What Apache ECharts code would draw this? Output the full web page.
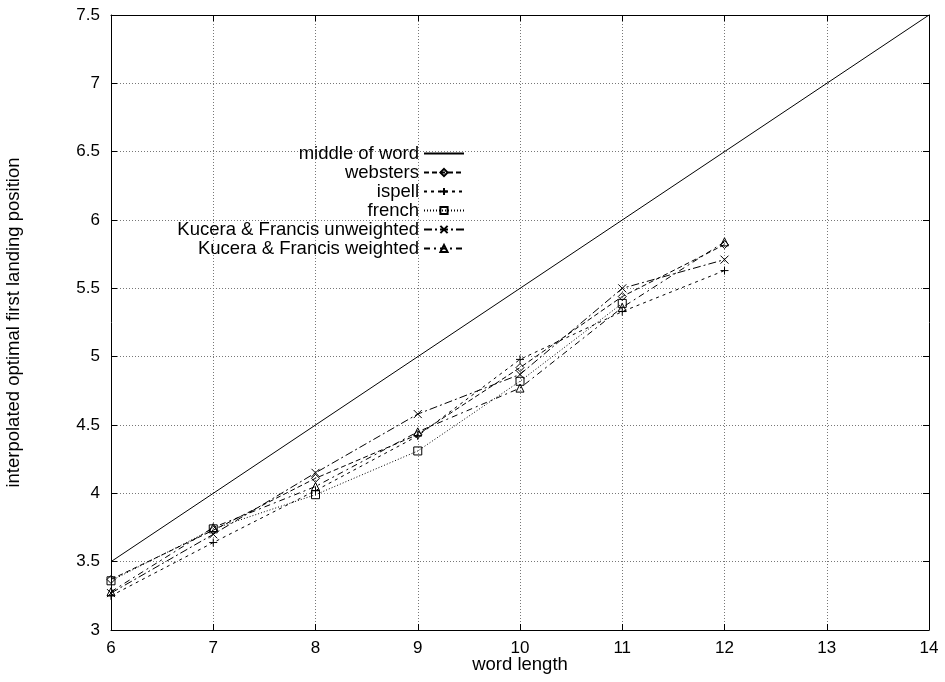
<!DOCTYPE html>
<html><head><meta charset="utf-8">
<script src="https://cdn.jsdelivr.net/npm/echarts@6/dist/echarts.min.js"></script>
<style>html,body{margin:0;padding:0;background:#fff}#c{width:945px;height:682px}</style>
</head><body><div id="c"></div>
<script>
const wordLength = [6, 7, 8, 9, 10, 11, 12];
const middleX = [6, 14];
const middleY = [3.5, 7.5];
const websters = [3.37, 3.73, 4.11, 4.43, 4.92, 5.44, 5.82];
const ispell = [3.25, 3.64, 4.02, 4.42, 4.98, 5.33, 5.63];
const french = [3.36, 3.74, 3.99, 4.31, 4.82, 5.39];
const kfUnweighted = [3.27, 3.70, 4.15, 4.58, 4.87, 5.50, 5.71];
const kfWeighted = [3.28, 3.75, 4.05, 4.45, 4.77, 5.36, 5.84];
const seriesNames = ['middle of word', 'websters', 'ispell', 'french', 'Kucera & Francis unweighted', 'Kucera & Francis weighted'];
const xTicks = [6, 7, 8, 9, 10, 11, 12, 13, 14];
const yTicks = [3, 3.5, 4, 4.5, 5, 5.5, 6, 6.5, 7, 7.5];

const FONT = 'Liberation Sans';
const pair = (xs, ys) => ys.map((y, i) => [xs[i], y]);
const plusPath = 'path://M0,5L10,5M5,0L5,10';
const crossPath = 'path://M0,0L10,10M10,0L0,10';
const diamondPath = 'path://M5,0L10,5L5,10L0,5Z';
const squarePath = 'path://M0,0L10,0L10,10L0,10Z';
const trianglePath = 'path://M5,0L10,9L0,9Z';

function mk(name, data, dash, symbol, size, show) {
  return {
    name, type: 'line', data, symbol, symbolSize: size,
    showSymbol: show,
    lineStyle: { color: '#000', width: 1, type: dash },
    itemStyle: { color: 'rgba(0,0,0,0)', borderColor: '#000', borderWidth: 1 },
    emphasis: { disabled: true },
    animation: false, z: 3
  };
}

const axisCommon = {
  type: 'value',
  axisLine: { show: true, onZero: false, lineStyle: { color: '#000', width: 1 } },
  axisTick: { show: true, inside: true, length: 6, lineStyle: { color: '#000' } },
  axisLabel: { color: '#000', fontFamily: FONT, fontSize: 17 },
  splitLine: { show: false }
};

const legendData = seriesNames.map((n, i) => i === 0
  ? { name: n, itemStyle: { color: 'rgba(0,0,0,0)', borderColor: 'rgba(0,0,0,0)', borderWidth: 0, opacity: 0 } }
  : { name: n });

const chart = echarts.init(document.getElementById('c'));
chart.setOption({
  animation: false,
  grid: { left: 111, top: 15, right: 16, bottom: 52, containLabel: false, outerBoundsMode: 'none' },
  xAxis: [
    Object.assign({}, axisCommon, {
      min: xTicks[0], max: xTicks[xTicks.length - 1], interval: 1, position: 'bottom',
      name: 'word length', nameLocation: 'middle', nameGap: 25, nameMoveOverlap: false,
      nameTextStyle: { color: '#000', fontFamily: FONT, fontSize: 18.5 },
      axisLabel: { color: '#000', fontFamily: FONT, fontSize: 17, margin: 10 },
      splitLine: { show: true, lineStyle: { color: '#777', type: [1, 2], width: 1 } }
    }),
    Object.assign({}, axisCommon, {
      min: xTicks[0], max: xTicks[xTicks.length - 1], interval: 1, position: 'top',
      axisLabel: { show: false }
    })
  ],
  yAxis: [
    Object.assign({}, axisCommon, {
      min: yTicks[0], max: yTicks[yTicks.length - 1], interval: 0.5, position: 'left',
      name: 'interpolated optimal first landing position', nameLocation: 'middle', nameGap: 88,
      nameMoveOverlap: false,
      nameTextStyle: { color: '#000', fontFamily: FONT, fontSize: 18.5 },
      axisLabel: { color: '#000', fontFamily: FONT, fontSize: 17, margin: 11 },
      splitLine: { show: true, lineStyle: { color: '#777', type: [1, 2], width: 1 } }
    }),
    Object.assign({}, axisCommon, {
      min: yTicks[0], max: yTicks[yTicks.length - 1], interval: 0.5, position: 'right',
      axisLabel: { show: false }
    })
  ],
  legend: {
    orient: 'vertical', align: 'right', right: 475, top: 139,
    itemWidth: 40, itemHeight: 9, itemGap: 0,
    selectedMode: false,
    textStyle: { color: '#000', fontFamily: FONT, fontSize: 18.5, lineHeight: 18 },
    data: legendData
  },
  series: [
    mk(seriesNames[0], pair(middleX, middleY), 'solid', 'circle', 1, false),
    mk(seriesNames[1], pair(wordLength, websters), [5, 3], diamondPath, 8, true),
    mk(seriesNames[2], pair(wordLength, ispell), [3, 4], plusPath, 8, true),
    mk(seriesNames[3], pair(wordLength, french), [1, 2], squarePath, 8, true),
    mk(seriesNames[4], pair(wordLength, kfUnweighted), [8, 3, 2, 3], crossPath, 8, true),
    mk(seriesNames[5], pair(wordLength, kfWeighted), [6, 4, 2, 4], trianglePath, 8, true)
  ]
});
</script>
</body></html>
